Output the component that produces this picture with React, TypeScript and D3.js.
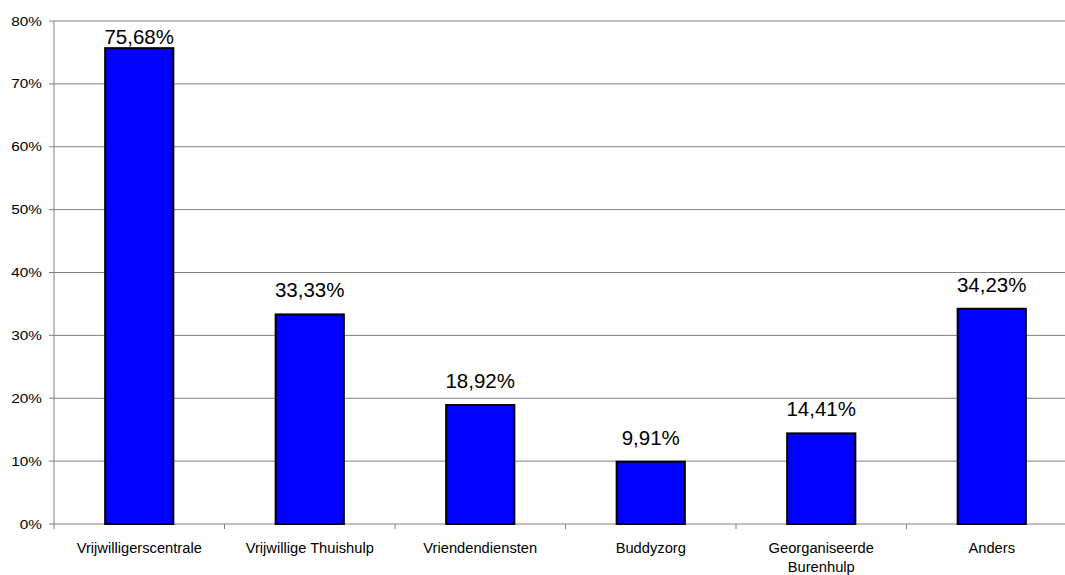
import React from "react";
import * as d3 from "d3";

const categories = ["Vrijwilligerscentrale", "Vrijwillige Thuishulp", "Vriendendiensten", "Buddyzorg", "Georganiseerde Burenhulp", "Anders"];
const values = [75.68, 33.33, 18.92, 9.91, 14.41, 34.23];
const yTicks = [0, 10, 20, 30, 40, 50, 60, 70, 80];
const labelLines: string[][] = [["Vrijwilligerscentrale"], ["Vrijwillige Thuishulp"], ["Vriendendiensten"], ["Buddyzorg"], ["Georganiseerde", "Burenhulp"], ["Anders"]];

const W = 1065, H = 575;
const left = 54, top = 21, bottom = 524;
const right = left + 6 * 170.5;

export default function App() {
  const x = d3.scaleBand<string>().domain(categories).range([left, right]).paddingInner(0).paddingOuter(0);
  const y = d3.scaleLinear().domain([0, 80]).range([bottom, top]);
  const bw = x.bandwidth() * 0.4;
  const font = "'Liberation Sans', Arial, sans-serif";
  return (
    <svg width={W} height={H} style={{ position: "absolute", left: 0, top: 0, background: "#fff" }} fontFamily={font}>
      {yTicks.map(t => (
        <g key={t}>
          {t > 0 && <line x1={left} x2={W} y1={y(t)} y2={y(t)} stroke="#808080" strokeWidth={1} />}
          <line x1={left - 5} x2={left} y1={y(t)} y2={y(t)} stroke="#808080" strokeWidth={1} />
          <text transform={`translate(${left - 12},${y(t) + 4.5}) scale(1.18,1)`} textAnchor="end" fontSize={13} fill="#000">{t}%</text>
        </g>
      ))}
      <line x1={left} x2={left} y1={top} y2={bottom} stroke="#808080" strokeWidth={1} />
      <line x1={left} x2={W} y1={bottom} y2={bottom} stroke="#808080" strokeWidth={1} />
      {categories.map((c, i) => (
        <line key={"t" + i} x1={(x(c) as number)} x2={(x(c) as number)} y1={bottom} y2={bottom + 5} stroke="#808080" strokeWidth={1} />
      ))}
      {categories.map((c, i) => {
        const cx = (x(c) as number) + x.bandwidth() / 2;
        const v = values[i];
        const yt = y(v);
        const ly = Math.max(yt - 17, top + 23);
        return (
          <g key={c}>
            <rect x={cx - bw / 2} y={yt} width={bw} height={bottom - yt} fill="#0000FF" stroke="#000" strokeWidth={2} />
            <text x={cx} y={ly} textAnchor="middle" fontSize={20.5} fill="#000">{v.toFixed(2).replace(".", ",")}%</text>
            {labelLines[i].map((l, j) => (
              <text key={j} x={cx} y={553 + j * 19} textAnchor="middle" fontSize={14.7} fill="#000">{l}</text>
            ))}
          </g>
        );
      })}
    </svg>
  );
}
